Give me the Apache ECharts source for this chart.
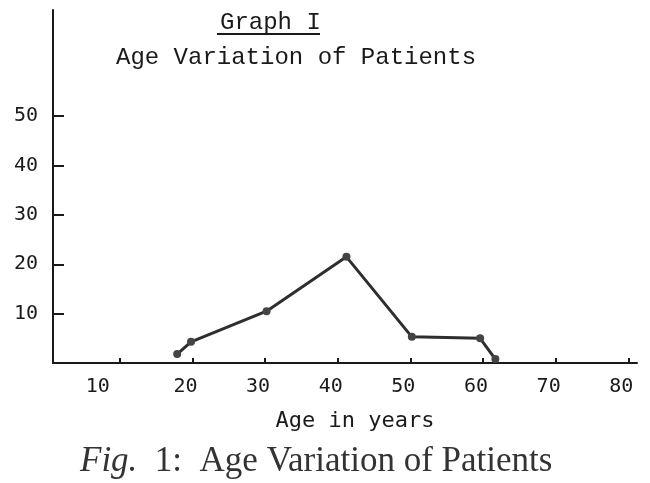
<!DOCTYPE html>
<html>
<head>
<meta charset="utf-8">
<script src="https://cdn.jsdelivr.net/npm/echarts@6/dist/echarts.min.js"></script>
<style>html,body{margin:0;padding:0;background:#fff;}#main{width:650px;height:483px;}</style>
</head>
<body>
<div id="main"></div>
<script>
// Data
var ages = [17.9, 19.8, 30.2, 41.2, 50.2, 59.6, 61.7];
var patients = [1.8, 4.3, 10.5, 21.5, 5.3, 5.0, 0.8];
var xTickValues = [10, 20, 30, 40, 50, 60, 70, 80];
var yTickValues = [10, 20, 30, 40, 50];

var points = ages.map(function (a, i) { return [a, patients[i]]; });

var chart = echarts.init(document.getElementById('main'));
var mono = 'Liberation Mono';
var sansMono = 'DejaVu Sans Mono';
chart.setOption({
  backgroundColor: '#ffffff',
  animation: false,
  title: [
    { text: 'Graph I', left: 215, top: 6, textStyle: { fontFamily: mono, fontSize: 24, fontWeight: 'normal', color: '#1a1a1a' } },
    { text: 'Age Variation of Patients', left: 111, top: 41, textStyle: { fontFamily: mono, fontSize: 24, fontWeight: 'normal', color: '#1a1a1a' } },
    { text: '{i|Fig.}{n|  1:  Age Variation of Patients}', left: 75, top: 439,
      textStyle: { fontWeight: 'normal', rich: {
        i: { fontFamily: 'Liberation Serif', fontStyle: 'italic', fontWeight: 'normal', fontSize: 35, color: '#333' },
        n: { fontFamily: 'Liberation Serif', fontWeight: 'normal', fontSize: 35, color: '#333' }
      } } }
  ],
  graphic: [
    { type: 'line', shape: { x1: 217, y1: 34, x2: 320, y2: 34 }, style: { stroke: '#1a1a1a', lineWidth: 2 } }
  ],
  grid: { left: 53, right: 13, top: 10, bottom: 120 },
  xAxis: {
    type: 'value', min: 0.8, max: 81.2,
    name: 'Age in years', nameLocation: 'middle', nameGap: 47,
    nameTextStyle: { fontFamily: sansMono, fontSize: 22, color: '#1a1a1a', padding: [0, 0, 0, 20] },
    axisLine: { show: true, lineStyle: { color: '#1a1a1a', width: 2 } },
    axisTick: { show: true, inside: true, length: 5, customValues: xTickValues, lineStyle: { color: '#1a1a1a', width: 2 } },
    axisLabel: { customValues: xTickValues, margin: 14,
      formatter: function (v) { return v === 10 ? '{f|' + v + '}' : '{a|' + v + '}'; },
      rich: {
        a: { fontFamily: sansMono, fontSize: 20, color: '#1a1a1a', padding: [0, 14, 0, 0] },
        f: { fontFamily: sansMono, fontSize: 20, color: '#1a1a1a', padding: [0, 44, 0, 0] }
      } },
    splitLine: { show: false }
  },
  yAxis: {
    type: 'value', min: 0, max: 71.5,
    axisLine: { show: true, lineStyle: { color: '#1a1a1a', width: 2 } },
    axisTick: { show: true, inside: true, length: 11, customValues: yTickValues, lineStyle: { color: '#1a1a1a', width: 2 } },
    axisLabel: { customValues: yTickValues, margin: 15, fontFamily: sansMono, fontSize: 20, color: '#1a1a1a' },
    splitLine: { show: false }
  },
  series: [{
    type: 'line',
    data: points,
    symbol: 'circle', symbolSize: 8,
    lineStyle: { color: '#2e2e2e', width: 3 },
    itemStyle: { color: '#444' }
  }]
});
</script>
</body>
</html>
